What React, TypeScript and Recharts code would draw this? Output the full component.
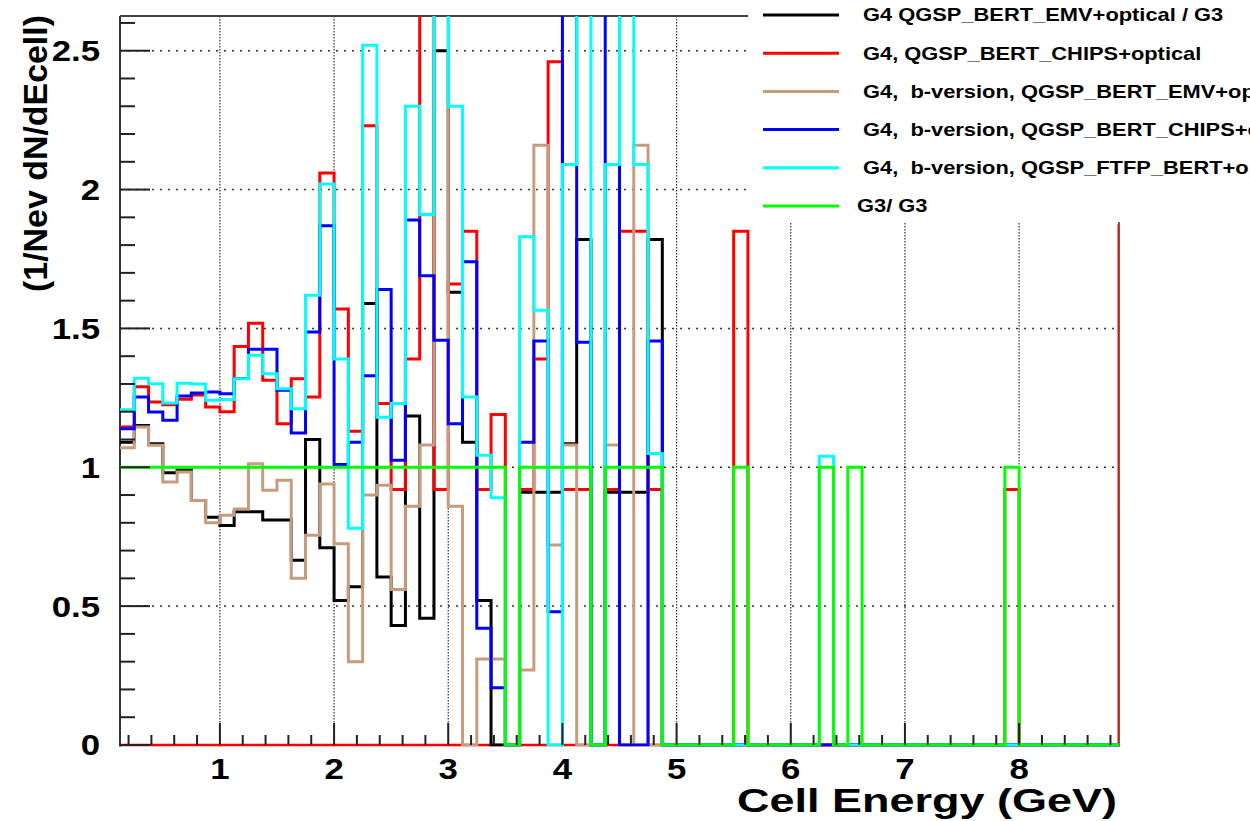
import { LineChart, Line, XAxis, YAxis, ReferenceLine } from "recharts";

// 70 bins of 0.125 GeV from 0.125 to 8.875, last entry is the first bin past the axis
const BIN_START = 0.125;
const BIN_WIDTH = 0.125;

const g4Emv = [
  1.09, 1.15, 1.085, 0.98, 0.99, 0.88, 0.82, 0.79, 0.84, 0.84, 0.81, 0.81, 0.665, 1.1, 0.71,
  0.52, 0.57, 1.59, 0.605, 0.43, 1.185, 0.456, 2.5, 1.63, 1.09, 0.52, 0, 0, 0.91, 0.91,
  0.91, 1.085, 1.82, 0, 0.91, 0.91, 0.91, 1.82, 0, 0, 0, 0, 0, 0, 0,
  0, 0, 0, 0, 0, 0, 0, 0, 0, 0, 0, 0, 0, 0, 0,
  0, 0, 0, 0, 0, 0, 0, 0, 0, 0, 0,
];
const g4Chips = [
  1.145, 1.29, 1.235, 1.225, 1.245, 1.26, 1.217, 1.2, 1.435, 1.519, 1.313, 1.157, 1.319, 1.253, 2.06,
  1.57, 1.13, 2.23, 1.23, 0.92, 1.39, 2.7, 0.92, 1.66, 1.85, 0.92, 1.19, 0, 0.92, 1.39,
  2.46, 0.92, 0.92, 0, 0.92, 1.85, 1.85, 0.92, 0, 0, 0, 0, 0, 1.85, 0,
  0, 0, 0, 0, 0, 0, 0, 0, 0, 0, 0, 0, 0, 0, 0,
  0, 0, 0.92, 0, 0, 0, 0, 0, 0, 0, 1.87,
];
const bEmv = [
  1.07, 1.145, 1.079, 0.947, 0.983, 0.88, 0.8, 0.827, 0.85, 1.013, 0.917, 0.953, 0.6, 0.755, 0.94,
  0.725, 0.3, 0.9, 0.935, 0.56, 0.86, 1.08, 2.7, 0.86, 0, 0.31, 0.31, 0, 0.27, 2.16,
  0.72, 1.08, 0, 0, 1.08, 0, 2.16, 0, 0, 0, 0, 0, 0, 0, 0,
  0, 0, 0, 0, 0, 0, 0, 0, 0, 0, 0, 0, 0, 0, 0,
  0, 0, 0, 0, 0, 0, 0, 0, 0, 0, 0,
];
const bChips = [
  1.139, 1.253, 1.199, 1.169, 1.257, 1.267, 1.271, 1.265, 1.32, 1.425, 1.425, 1.277, 1.123, 1.487, 1.87,
  1.01, 1.09, 1.33, 1.64, 1.025, 1.89, 1.69, 1.457, 1.157, 1.74, 0.42, 0.206, 0, 1.09, 1.455,
  0.48, 2.7, 1.45, 0, 2.7, 0, 0, 1.455, 0, 0, 0, 0, 0, 0, 0,
  0, 0, 0, 0, 0, 0, 0, 0, 0, 0, 0, 0, 0, 0, 0,
  0, 0, 0, 0, 0, 0, 0, 0, 0, 0, 0,
];
const bFtfp = [
  1.207, 1.321, 1.301, 1.231, 1.303, 1.3, 1.241, 1.244, 1.319, 1.403, 1.337, 1.283, 1.211, 1.619, 2.02,
  1.39, 0.78, 2.52, 1.18, 1.23, 2.3, 1.91, 2.7, 2.3, 1.253, 1.043, 0.89, 0, 1.83, 1.565,
  0, 2.09, 2.7, 0, 2.09, 2.7, 2.09, 1.05, 0, 0, 0, 0, 0, 0, 0,
  0, 0, 0, 0, 1.04, 0, 0, 0, 0, 0, 0, 0, 0, 0, 0,
  0, 0, 0, 0, 0, 0, 0, 0, 0, 0, 0,
];
const g3 = [
  1, 1, 1, 1, 1, 1, 1, 1, 1, 1, 1, 1, 1, 1, 1,
  1, 1, 1, 1, 1, 1, 1, 1, 1, 1, 1, 1, 0, 1, 1,
  1, 1, 1, 0, 1, 1, 1, 1, 0, 0, 0, 0, 0, 1, 0,
  0, 0, 0, 0, 1, 0, 1, 0, 0, 0, 0, 0, 0, 0, 0,
  0, 0, 1, 0, 0, 0, 0, 0, 0, 0, 0,
];

const xMajor = [1, 2, 3, 4, 5, 6, 7, 8];
const xLabels = ["1", "2", "3", "4", "5", "6", "7", "8"];
const yMajor = [0, 0.5, 1, 1.5, 2, 2.5];
const yLabels = ["0", "0.5", "1", "1.5", "2", "2.5"];

const series = [
  { key: "black", name: "G4 QGSP_BERT_EMV+optical / G3", color: "#000000", values: g4Emv },
  { key: "red", name: "G4, QGSP_BERT_CHIPS+optical", color: "#ff0000", values: g4Chips },
  { key: "brown", name: "G4,  b-version, QGSP_BERT_EMV+optical", color: "#c79c7e", values: bEmv },
  { key: "blue", name: "G4,  b-version, QGSP_BERT_CHIPS+optical", color: "#0000ff", values: bChips },
  { key: "cyan", name: "G4,  b-version, QGSP_FTFP_BERT+optical", color: "#00ffff", values: bFtfp },
  { key: "green", name: "G3/ G3", color: "#00ff00", values: g3 },
];

// one row per bin edge, step lines hold the value until the next edge
const nBins = g3.length;
const data = Array.from({ length: nBins + 1 }, (_, i) => {
  const row: Record<string, number> = { x: BIN_START + i * BIN_WIDTH };
  series.forEach((s) => {
    row[s.key] = s.values[Math.min(i, nBins - 1)];
  });
  return row;
});

const xTicks: number[] = [];
for (let k = 1; k <= 44; k++) xTicks.push(Math.round(k * 2) / 10);
const yTicks: number[] = [];
for (let k = 0; k <= 26; k++) yTicks.push(k / 10);

const FONT = "'Liberation Sans', Arial, Helvetica, sans-serif";
const isMajor = (v: number, step: number) => Math.abs(v / step - Math.round(v / step)) < 1e-6;

function XTick(props: any) {
  const { x, y, payload } = props;
  const v = payload.value;
  const major = isMajor(v, 1);
  const idx = xMajor.findIndex((m) => Math.abs(m - v) < 1e-6);
  return (
    <g>
      <line x1={x} x2={x} y1={y - 1.5} y2={y - 1.5 - (major ? 22 : 10)} stroke="#222" strokeWidth={2} />
      {idx >= 0 && (
        <text
          transform={`translate(${x},${y + 32}) scale(1.2,1)`}
          textAnchor="middle"
          fontFamily={FONT}
          fontWeight="bold"
          fontSize={29}
          fill="#000"
        >
          {xLabels[idx]}
        </text>
      )}
    </g>
  );
}

function YTick(props: any) {
  const { x, y, payload } = props;
  const v = payload.value;
  const major = isMajor(v, 0.5);
  const idx = yMajor.findIndex((m) => Math.abs(m - v) < 1e-6);
  return (
    <g>
      <line x1={x} x2={x + (major ? 30 : 15)} y1={y} y2={y} stroke="#222" strokeWidth={2} />
      {idx >= 0 && (
        <text
          transform={`translate(${x - 20},${y + 10.5}) scale(1.2,1)`}
          textAnchor="end"
          fontFamily={FONT}
          fontWeight="bold"
          fontSize={29}
          fill="#000"
        >
          {yLabels[idx]}
        </text>
      )}
    </g>
  );
}

export default function App() {
  return (
    <div style={{ position: "absolute", left: 0, top: 0, width: 1250, height: 821, overflow: "hidden", background: "#fff" }}>
      <LineChart
        width={1250}
        height={821}
        data={data}
        margin={{ top: 16, right: 131, bottom: 73.5, left: 119 }}
      >
        <XAxis
          dataKey="x"
          type="number"
          domain={[0.125, 8.875]}
          allowDataOverflow
          ticks={xTicks}
          interval={0}
          height={1}
          tickSize={0}
          tickMargin={0}
          axisLine={false}
          tickLine={false}
          tick={<XTick />}
        />
        <YAxis
          type="number"
          domain={[-0.0055, 2.625]}
          allowDataOverflow
          ticks={yTicks}
          interval={0}
          width={1}
          tickSize={0}
          tickMargin={0}
          axisLine={false}
          tickLine={false}
          tick={<YTick />}
        />
        {xMajor.map((v) => (
          <ReferenceLine key={"gx" + v} x={v} stroke="#333" strokeWidth={1.2} strokeDasharray="1.5 1.5" />
        ))}
        {yMajor.slice(1).map((v) => (
          <ReferenceLine key={"gy" + v} y={v} stroke="#333" strokeWidth={1.5} strokeDasharray="2 6" />
        ))}
        <ReferenceLine x={0.125} stroke="#333" strokeWidth={2} />
        <ReferenceLine x={8.875} stroke="#333" strokeWidth={1.5} />
        <ReferenceLine y={2.625} stroke="#444" strokeWidth={2} />
        <ReferenceLine y={0} stroke="#ff0000" strokeWidth={2.5} />
        {series.map((s) => (
          <Line
            key={s.key}
            dataKey={s.key}
            type="stepAfter"
            stroke={s.color}
            strokeWidth={3}
            dot={false}
            activeDot={false}
            isAnimationActive={false}
          />
        ))}
      </LineChart>
      <svg width={1250} height={821} style={{ position: "absolute", left: 0, top: 0, pointerEvents: "none" }}>
        <rect x={748} y={0} width={502} height={222} fill="#fff" />
        {series.map((s, i) => {
          const cy = 15 + i * 38.2;
          return (
            <g key={s.key}>
              <line x1={763} x2={839} y1={cy} y2={cy} stroke={s.color} strokeWidth={3} />
              <text
                transform={`translate(${i === 5 ? 857 : 863},${cy + 6.3}) scale(1.25,1)`}
                fontFamily={FONT}
                fontWeight="bold"
                fontSize={17.5}
                fill="#000"
                style={{ whiteSpace: "pre" }}
              >
                {s.name}
              </text>
            </g>
          );
        })}
        <text
          x={737}
          y={812}
          textLength={380}
          lengthAdjust="spacingAndGlyphs"
          fontFamily={FONT}
          fontWeight="bold"
          fontSize={34}
          fill="#000"
        >
          Cell Energy (GeV)
        </text>
        <text
          transform="translate(47,292) rotate(-90)"
          textLength={277}
          lengthAdjust="spacingAndGlyphs"
          fontFamily={FONT}
          fontWeight="bold"
          fontSize={33}
          fill="#000"
        >
          (1/Nev dN/dEcell)
        </text>
      </svg>
    </div>
  );
}
